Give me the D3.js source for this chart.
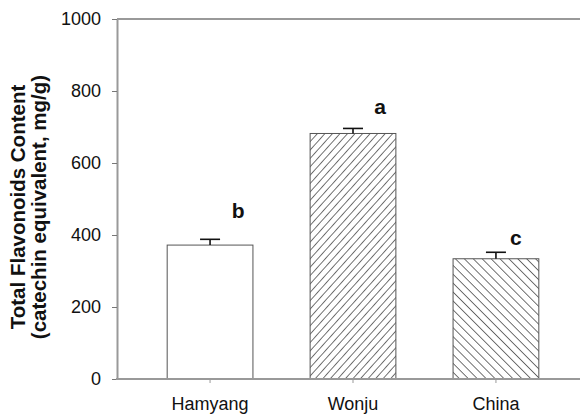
<!DOCTYPE html>
<html>
<head>
<meta charset="utf-8">
<script src="https://cdn.jsdelivr.net/npm/d3@7"></script>
<style>
  html, body { margin: 0; padding: 0; background: #fff; }
  svg { display: block; font-family: Arial, "Liberation Sans", sans-serif; }
</style>
</head>
<body>
<svg id="chart" width="580" height="414"></svg>
<script>
// Total flavonoid content by origin (mean + SD, catechin equivalent mg/g)
const categories = ["Hamyang", "Wonju", "China"];
const means = [372, 682, 334];
const errors = [16, 14, 18];
const groupLetters = ["b", "a", "c"];
const fills = ["none", "hatchForward", "hatchBack"];
const yTicks = [0, 200, 400, 600, 800, 1000];

// hand-placed offsets (px) of the significance letters from the error-bar cap
const letterDx = [28, 27, 20];
const letterDy = [-21, -14, -7];

const FONT = "Arial, 'Liberation Sans', sans-serif";
const svg = d3.select("#chart");
const plot = { left: 117, right: 580, top: 19, bottom: 379 };

const y = d3.scaleLinear().domain([0, 1000]).range([plot.bottom, plot.top]);
const x = d3.scaleBand()
  .domain(categories)
  .range([110, 596])
  .paddingInner(0.4)
  .paddingOuter(0.4);

// hatch patterns: positive angle leans "/", negative leans "\"
const defs = svg.append("defs");
function hatch(id, angle, gap) {
  const p = defs.append("pattern")
    .attr("id", id)
    .attr("patternUnits", "userSpaceOnUse")
    .attr("width", gap).attr("height", gap)
    .attr("patternTransform", `rotate(${angle})`);
  p.append("line")
    .attr("x1", 0).attr("y1", 0).attr("x2", 0).attr("y2", gap)
    .attr("stroke", "#000").attr("stroke-width", 1.1);
}
hatch("hatchForward", 42, 5.6);
hatch("hatchBack", -45, 6.3);

// bars
svg.append("g").selectAll("rect")
  .data(categories)
  .join("rect")
  .attr("x", d => x(d))
  .attr("y", (d, i) => y(means[i]))
  .attr("width", x.bandwidth())
  .attr("height", (d, i) => y(0) - y(means[i]))
  .attr("fill", (d, i) => fills[i] === "none" ? "#fff" : `url(#${fills[i]})`)
  .attr("stroke", "#555")
  .attr("stroke-width", 1);

// upper error bars
const eb = svg.append("g").attr("stroke", "#111").attr("stroke-width", 1.6);
categories.forEach((c, i) => {
  const cx = x(c) + x.bandwidth() / 2;
  eb.append("line")
    .attr("x1", cx).attr("x2", cx)
    .attr("y1", y(means[i])).attr("y2", y(means[i] + errors[i]));
  eb.append("line")
    .attr("x1", cx - 10).attr("x2", cx + 10)
    .attr("y1", y(means[i] + errors[i])).attr("y2", y(means[i] + errors[i]));
});

// significance letters
svg.append("g").selectAll("text")
  .data(categories)
  .join("text")
  .attr("x", (d, i) => x(d) + x.bandwidth() / 2 + letterDx[i])
  .attr("y", (d, i) => y(means[i] + errors[i]) + letterDy[i])
  .attr("text-anchor", "middle")
  .attr("font-size", 21)
  .attr("font-weight", "bold")
  .attr("fill", "#111")
  .text((d, i) => groupLetters[i]);

// frame line along the top
const axisColor = "#999";
svg.append("line")
  .attr("x1", plot.left).attr("x2", plot.right)
  .attr("y1", plot.top).attr("y2", plot.top)
  .attr("stroke", axisColor).attr("stroke-width", 2);

// y axis
const yAxis = svg.append("g")
  .attr("transform", `translate(${plot.left},0)`)
  .call(d3.axisLeft(y).tickValues(yTicks).tickFormat(d3.format("d"))
    .tickSize(5).tickPadding(11).tickSizeOuter(0));
yAxis.select(".domain").attr("stroke", axisColor).attr("stroke-width", 2);
yAxis.selectAll(".tick line").attr("stroke", "#777");
yAxis.selectAll(".tick text")
  .attr("font-size", 18).attr("fill", "#111").attr("font-family", FONT);

// x axis
const xAxis = svg.append("g")
  .attr("transform", `translate(0,${plot.bottom})`)
  .call(d3.axisBottom(x).tickSize(4).tickPadding(14).tickSizeOuter(0));
xAxis.select(".domain").remove();
xAxis.append("line")
  .attr("x1", plot.left - 1).attr("x2", plot.right)
  .attr("stroke", axisColor).attr("stroke-width", 2);
xAxis.selectAll(".tick line").attr("stroke", "#999");
xAxis.selectAll(".tick text")
  .attr("font-size", 18).attr("fill", "#111").attr("font-family", FONT);

// y axis title (two lines)
const title = svg.append("text")
  .attr("transform", "translate(0,207) rotate(-90)")
  .attr("text-anchor", "middle")
  .attr("font-size", 20.5)
  .attr("font-weight", "bold")
  .attr("font-family", FONT)
  .attr("fill", "#111");
title.append("tspan").attr("x", 0).attr("y", 25).text("Total Flavonoids Content");
title.append("tspan").attr("x", 0).attr("y", 46).text("(catechin equivalent, mg/g)");
</script>
</body>
</html>
